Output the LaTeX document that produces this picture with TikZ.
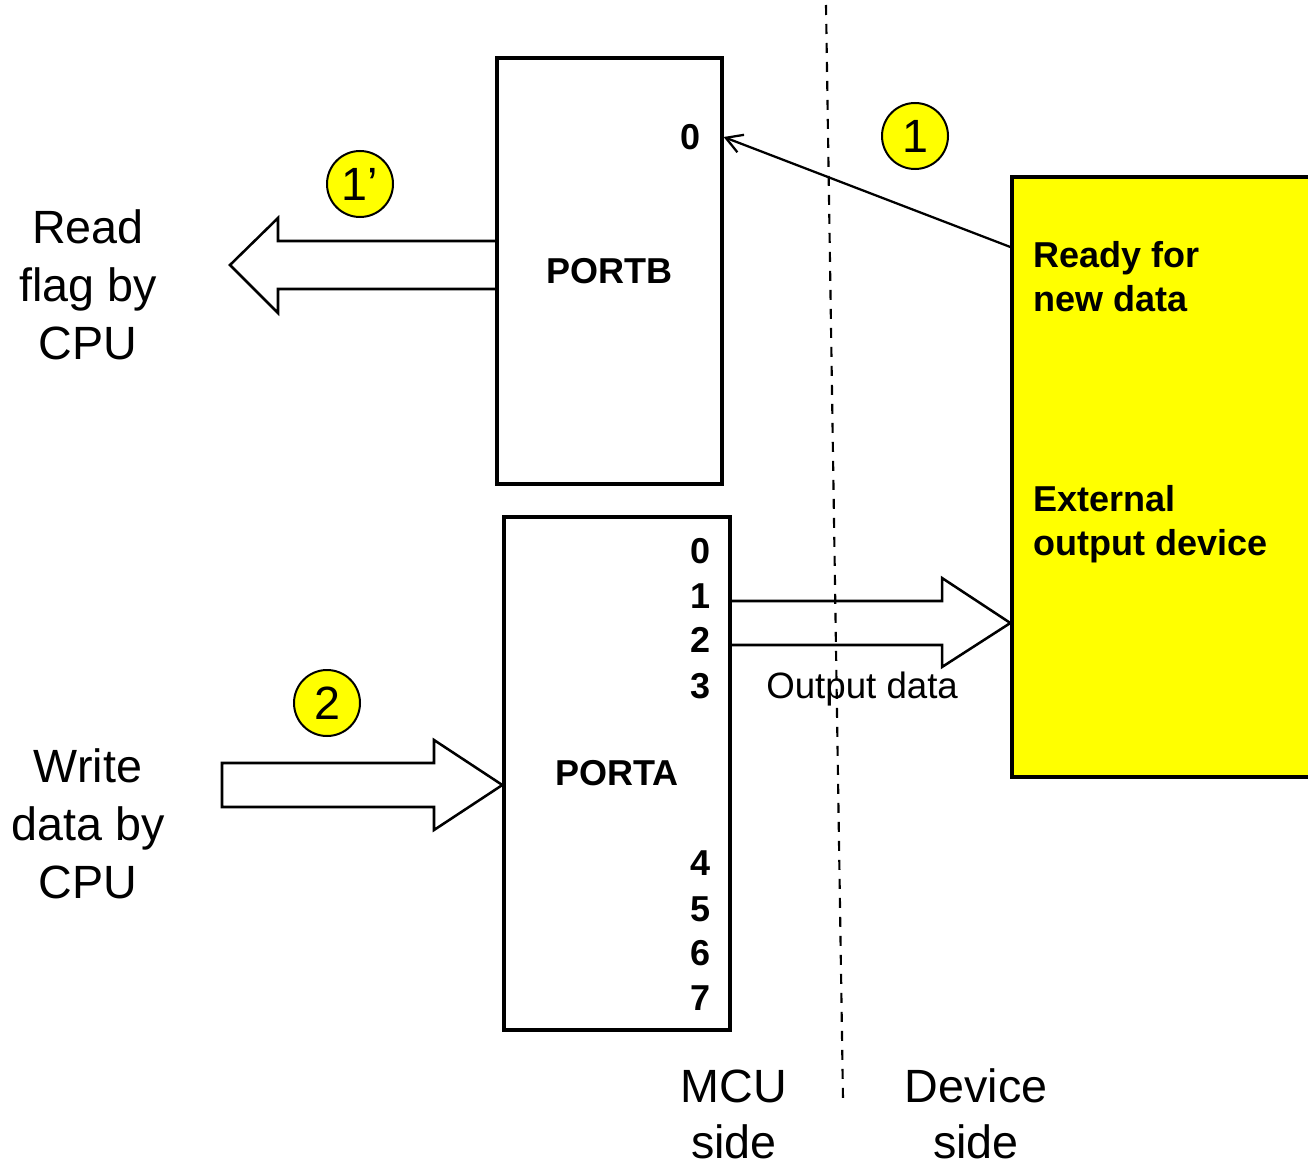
\documentclass[tikz,border=0pt]{standalone}
\usepackage{fontspec}
\setmainfont{Liberation Sans}
\usetikzlibrary{arrows.meta}
\definecolor{devyellow}{RGB}{255,255,0}

\begin{document}
\begin{tikzpicture}[x=0.75pt,y=-0.75pt,>={Straight Barb[length=12pt,width=14pt]},
  port/.style={draw,line width=2.5pt,inner sep=0pt,font=\fontsize{27}{27}\selectfont\bfseries},
  bit/.style={inner sep=0pt,font=\fontsize{27}{27}\selectfont\bfseries},
  badge/.style={circle,draw,line width=1.5pt,fill=devyellow,minimum size=49.5pt,inner sep=0pt,font=\fontsize{35}{35}\selectfont},
  biglabel/.style={align=center,inner sep=0pt,font=\fontsize{35}{43.5}\selectfont},
  devlabel/.style={align=left,inner sep=0pt,font=\fontsize{27}{33}\selectfont\bfseries},
  blockarrow/.style={line width=1.9pt,line join=miter}]
\useasboundingbox (0,0) rectangle (1308,1166);

% ports and device
\node[port,minimum width=168.75pt,minimum height=319.5pt] (portB) at (609.5,271) {PORTB};
\node[port,minimum width=169.5pt,minimum height=384.75pt] (portA) at (617,773.5) {PORTA};
\node[draw,line width=2.5pt,fill=devyellow,minimum width=240pt,minimum height=450pt] (ext) at (1172,477) {};

\node[devlabel,anchor=west] (ready) at (1033,276.7) {Ready for\\new data};
\node[devlabel,anchor=west] (extname) at (1033,524) {External\\output device};

% bit numbers
\node[bit] (b0) at (690,137) {0};
\foreach \b/\y in {0/551,1/596,2/640,3/686,4/863,5/909,6/953,7/998}
  \node[bit] (a\b) at (700,\y) {\b};

% steps
\node[badge] (step1p) at (360,184) {1’};
\node[badge] (step1) at (915,136) {1};
\node[badge] (step2) at (327,703) {2};

% side labels
\node[biglabel] (readcpu) at (88,284.4) {Read\\flag by\\CPU};
\node[biglabel] (writecpu) at (88,823.4) {Write\\data by\\CPU};
\node[biglabel,font=\fontsize{35}{42}\selectfont] (mcu) at (734,1114) {MCU\\side};
\node[biglabel,font=\fontsize{35}{42}\selectfont] (dev) at (976,1114) {Device\\side};
\node[anchor=base west,inner sep=0pt,font=\fontsize{27.5}{27.5}\selectfont] (outdata) at (766,698) {Output data};

% block arrows
\coordinate (readTip) at (230,265);
\draw[blockarrow] (portB.west |- 0,241) -- (278,241) -- (278,218) -- (readTip)
  -- (278,313) -- (278,289) -- (portB.west |- 0,289);
\coordinate (writeTail) at (222,785);
\draw[blockarrow] (portA.west |- writeTail) -- (434,740) -- (434,763) -- (writeTail |- 0,763)
  -- (writeTail |- 0,807) -- (434,807) -- (434,830) -- cycle;
\draw[blockarrow] (portA.east |- 0,601) -- (942,601) -- (942,578) -- (ext.west |- 0,623)
  -- (942,667) -- (942,645) -- (portA.east |- 0,645);

% flag line
\draw[->,line width=1.7pt] (ext.west |- 0,247) -- (portB.east |- b0);

% border between MCU and device
\coordinate (divTop) at (826,5);
\coordinate (divBot) at (843,1100);
\draw[line width=1.6pt,dash pattern=on 7.5pt off 6.75pt] (divTop) -- (divBot);

\end{tikzpicture}
\end{document}
